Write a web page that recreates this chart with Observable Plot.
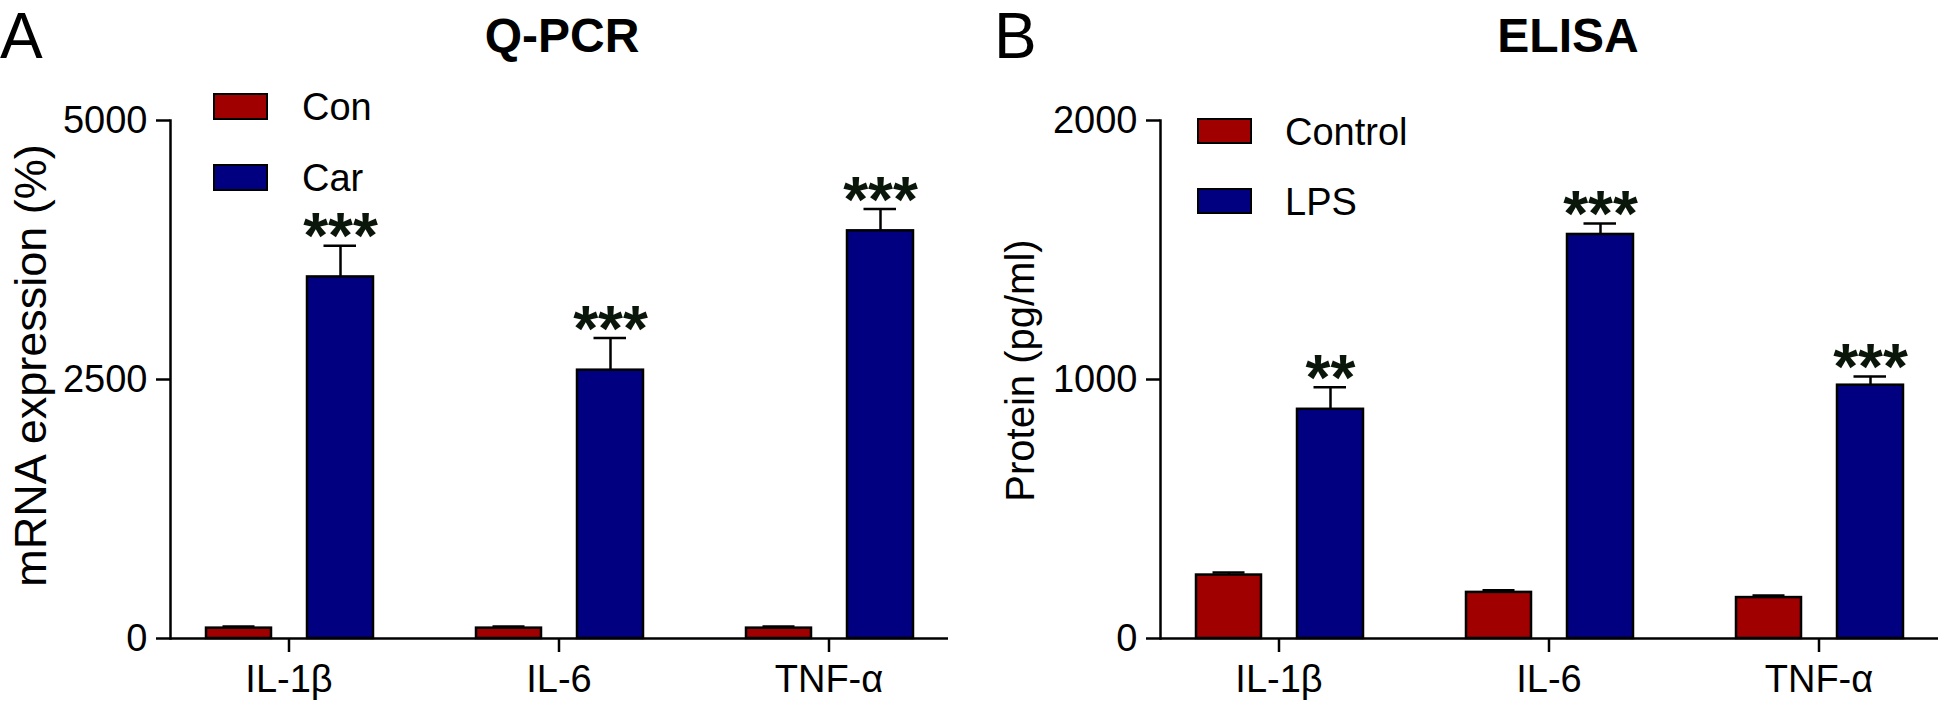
<!DOCTYPE html>
<html>
<head>
<meta charset="utf-8">
<script src="https://cdn.jsdelivr.net/npm/d3@7"></script>
<script src="https://cdn.jsdelivr.net/npm/@observablehq/plot@0.6"></script>
<style>
  html, body { margin: 0; padding: 0; background: #fff; }
  #wrap { position: relative; width: 1946px; height: 704px; overflow: hidden; background: #fff;
          font-family: "Liberation Sans", Arial, sans-serif; color: #000; }
  .abs { position: absolute; white-space: nowrap; line-height: 1; }
  .sw { position: absolute; box-sizing: border-box; border: 2.5px solid #000; }
  .panel { position: absolute; top: 0; }
</style>
</head>
<body>
<div id="wrap"></div>
<script>
// ---------- data ----------
const categories = ["IL-1β", "IL-6", "TNF-α"];

const qpcrGroups = ["Con", "Car"];
const qpcrCon = [100, 100, 100];
const qpcrConSem = [15, 15, 15];
const qpcrCar = [3490, 2590, 3935];
const qpcrCarSem = [300, 310, 210];
const qpcrStars = ["***", "***", "***"];
const qpcrTicks = [0, 2500, 5000];

const elisaGroups = ["Control", "LPS"];
const elisaControl = [245, 178, 158];
const elisaControlSem = [10, 8, 8];
const elisaLps = [885, 1560, 978];
const elisaLpsSem = [85, 42, 34];
const elisaStars = ["**", "***", "***"];
const elisaTicks = [0, 1000, 2000];

const groupColors = ["#a00000", "#000080"];
const FONT = '"Liberation Sans", Arial, sans-serif';

// ---------- panel ----------
function makePanel({ymax, ticks, label, labelSize, labelDy, v1, e1, v2, e2, stars}) {
  const d1 = categories.map((c, i) => ({cat: c, v: v1[i], top: v1[i] + e1[i]}));
  const d2 = categories.map((c, i) => ({cat: c, v: v2[i], top: v2[i] + e2[i], star: stars[i]}));
  const sw = 2.5;
  return Plot.plot({
    width: 956, height: 704,
    marginLeft: 170, marginRight: 8, marginTop: 120, marginBottom: 66,
    style: {fontFamily: FONT, background: "transparent", overflow: "visible", color: "#000"},
    x: {domain: categories, paddingInner: 0.129, paddingOuter: 0},
    y: {domain: [0, ymax]},
    marks: [
      Plot.ruleX(d1, {x: "cat", y1: "v", y2: "top", dx: -50, stroke: "#000", strokeWidth: sw}),
      Plot.tickY(d1, {x: "cat", y: "top", insetLeft: 51.5, insetRight: 151.5, stroke: "#000", strokeWidth: sw}),
      Plot.ruleX(d2, {x: "cat", y1: "v", y2: "top", dx: 51.5, stroke: "#000", strokeWidth: sw}),
      Plot.tickY(d2, {x: "cat", y: "top", insetLeft: 152.5, insetRight: 50, stroke: "#000", strokeWidth: sw}),
      Plot.barY(d1, {x: "cat", y: "v", fill: groupColors[0], stroke: "#000", strokeWidth: sw, insetLeft: 35, insetRight: 135}),
      Plot.barY(d2, {x: "cat", y: "v", fill: groupColors[1], stroke: "#000", strokeWidth: sw, insetLeft: 136, insetRight: 33}),
      Plot.text(d2, {x: "cat", y: "top", text: "star", dx: 51.5, dy: -8, fontSize: 64, fontWeight: "bold", lineAnchor: "middle", fill: "#0b160b"}),
      Plot.frame({anchor: "left", stroke: "#000", strokeWidth: sw}),
      Plot.ruleY([0], {stroke: "#000", strokeWidth: sw}),
      Plot.axisY(ticks, {tickSize: 14, tickPadding: 9, fontSize: 38, label: null, strokeWidth: sw, tickFormat: d => String(d)}),
      Plot.axisX({tickSize: 14, tickPadding: 13, fontSize: 38, label: null, strokeWidth: sw}),
      Plot.text([label], {text: d => d, frameAnchor: "left", textAnchor: "middle", rotate: -90, dx: -139, dy: labelDy, fontSize: labelSize, lineAnchor: "middle"})
    ]
  });
}

const wrap = document.getElementById("wrap");

function addPanel(svg, left) {
  svg.classList.add("panel");
  svg.style.left = left + "px";
  wrap.appendChild(svg);
}

addPanel(makePanel({ymax: 5000, ticks: qpcrTicks, label: "mRNA expression (%)", labelSize: 45, labelDy: -14,
  v1: qpcrCon, e1: qpcrConSem, v2: qpcrCar, e2: qpcrCarSem, stars: qpcrStars}), 0);
addPanel(makePanel({ymax: 2000, ticks: elisaTicks, label: "Protein (pg/ml)", labelSize: 40, labelDy: -9,
  v1: elisaControl, e1: elisaControlSem, v2: elisaLps, e2: elisaLpsSem, stars: elisaStars}), 990);

// ---------- titles / panel letters ----------
function addText(txt, left, top, size, weight, center) {
  const d = document.createElement("div");
  d.className = "abs";
  d.textContent = txt;
  d.style.left = left + "px";
  d.style.top = top + "px";
  d.style.fontSize = size + "px";
  d.style.fontWeight = weight;
  if (center) d.style.transform = "translateX(-50%)";
  wrap.appendChild(d);
}
addText("A", 0, 4, 64, 400, false);
addText("B", 994, 4, 64, 400, false);
addText("Q-PCR", 562, 12, 48, 700, true);
addText("ELISA", 1568, 12, 48, 700, true);

// ---------- legends ----------
function addLegend(groups, swLeft, swTops, swW, swH, textLeft) {
  groups.forEach((g, i) => {
    const s = document.createElement("div");
    s.className = "sw";
    s.style.left = swLeft + "px";
    s.style.top = swTops[i] + "px";
    s.style.width = swW + "px";
    s.style.height = swH + "px";
    s.style.background = groupColors[i];
    wrap.appendChild(s);
    addText(g, textLeft, swTops[i] - 5, 38, 400, false);
  });
}
addLegend(qpcrGroups, 213, [93, 164], 55, 27, 302);
addLegend(elisaGroups, 1197, [118, 188], 55, 26, 1285);
</script>
</body>
</html>
